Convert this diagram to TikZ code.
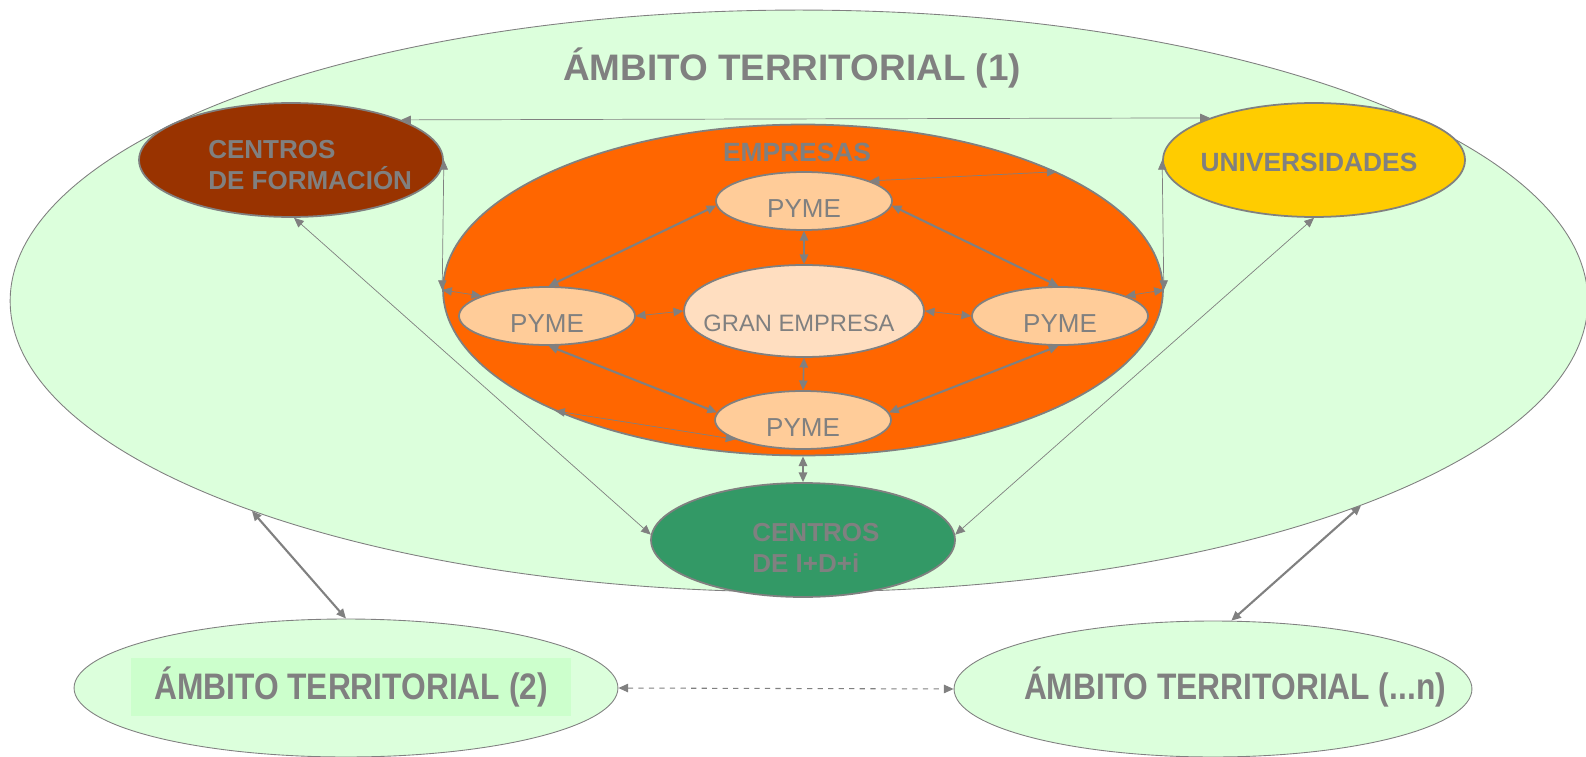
\documentclass[tikz,border=0pt]{standalone}
\usepackage{fontspec}
\setmainfont{Liberation Sans}
\usepackage{graphicx}
\usepackage{xcolor}
\usepackage{tikz}
\usetikzlibrary{
  arrows.meta,
  shapes.geometric,
  positioning,
  calc
}
\definecolor{txtgray}{RGB}{128,128,128}
\definecolor{formacion}{RGB}{153,51,0}
\definecolor{univfill}{RGB}{255,204,0}
\definecolor{empfill}{RGB}{255,102,0}
\definecolor{pymefill}{RGB}{255,204,153}
\definecolor{granfill}{RGB}{255,222,192}
\definecolor{idifill}{RGB}{51,153,102}
\definecolor{ambfill}{RGB}{220,255,220}
\definecolor{ambrect}{RGB}{204,255,204}
\tikzset{
  ambito/.style=
  {
    ellipse,
    draw=txtgray,
    line width=0.5pt,
    fill=ambfill,
    inner sep=0pt
  },
  actor/.style=
  {
    ellipse,
    draw=txtgray,
    line width=1pt,
    inner sep=0pt
  },
  pyme/.style=
  {
    actor,
    fill=pymefill,
    minimum width=3.52cm,
    minimum height=1.16cm
  },
  bigtxt/.style=
  {
    text=txtgray,
    font=\bfseries\fontsize{21pt}{25pt}\selectfont
  },
  boldtxt/.style=
  {
    text=txtgray,
    inner sep=0pt,
    font=\bfseries\fontsize{14.8pt}{18pt}\selectfont
  },
  pymetxt/.style=
  {
    text=txtgray,
    inner sep=0pt,
    font=\fontsize{14.8pt}{18pt}\selectfont
  },
  link/.style=
  {
    draw=txtgray,
    line width=0.4pt,
    <->
  },
  mid/.style=
  {
    draw=txtgray,
    line width=0.9pt,
    <->
  },
  flow/.style=
  {
    draw=txtgray,
    line width=1.2pt,
    <->
  },
  dashlink/.style=
  {
    draw=txtgray,
    line width=0.6pt,
    dashed,
    <->
  }
}

\begin{document}
\begin{tikzpicture}[x=0.02cm, y=-0.02cm, >={Triangle[length=5.5pt,width=4.8pt]}]
  \useasboundingbox (0,0) rectangle (1586,757);
  \node[ambito, minimum width=31.56cm, minimum height=11.64cm] (big) at (799,301) {};
  \node[bigtxt] (bigtxt) at (792,68) {ÁMBITO TERRITORIAL (1)};
  \node[actor, fill=formacion, minimum width=6.08cm, minimum height=2.28cm] (cf) at (291,160) {};
  \node[boldtxt, align=left, anchor=west] (cftxt) at (208,165) {CENTROS\\DE FORMACIÓN};
  \node[actor, fill=univfill, minimum width=6.04cm, minimum height=2.28cm] (univ) at (1314,160) {};
  \node[boldtxt, font=\bfseries\fontsize{15pt}{18pt}\selectfont] (univtxt) at (1309,162) {UNIVERSIDADES};
  \node[actor, fill=empfill, minimum width=14.4cm, minimum height=6.62cm] (emp) at (803,290) {};
  \node[boldtxt, font=\bfseries\fontsize{15pt}{18pt}\selectfont] (emptxt) at (797,152) {EMPRESAS};
  \node[pyme] (pT) at (804,201) {};
  \node[pyme] (pL) at (547,316) {};
  \node[pyme] (pR) at (1060,316) {};
  \node[pyme] (pB) at (803,420) {};
  \node[actor, fill=granfill, minimum width=4.8cm, minimum height=1.84cm] (gran) at (804,311) {};
  \node[pymetxt] (pTtxt) at ([yshift=-0.16cm]pT.center) {PYME};
  \node[pymetxt] (pLtxt) at ([yshift=-0.16cm]pL.center) {PYME};
  \node[pymetxt] (pRtxt) at ([yshift=-0.16cm]pR.center) {PYME};
  \node[pymetxt] (pBtxt) at ([yshift=-0.16cm]pB.center) {PYME};
  \node[pymetxt, font=\fontsize{13.5pt}{16pt}\selectfont] (grantxt) at (799,323) {GRAN EMPRESA};
  \node[actor, fill=idifill, minimum width=6.08cm, minimum height=2.28cm] (idi) at (803,540) {};
  \node[boldtxt, align=left, anchor=west] (iditxt) at (752,548) {CENTROS\\DE I+D+i};
  \node[ambito, minimum width=10.88cm, minimum height=2.76cm] (amb2) at (346,688) {};
  \node[bigtxt, fill=ambrect, minimum width=8.82cm, minimum height=1.16cm] (amb2txt) at (351,687)
    {\scalebox{0.86}[1]{ÁMBITO TERRITORIAL (2)}};
  \node[ambito, minimum width=10.36cm, minimum height=2.72cm] (ambn) at (1213,689) {};
  \node[bigtxt] (ambntxt) at (1235,687) {\scalebox{0.86}[1]{ÁMBITO TERRITORIAL (...n)}};

  \draw[link] (cf.20) -- (univ.158);
  \draw[link] (cf.east) -- (emp.west);
  \draw[link] (univ.west) -- (emp.east);
  \draw[link] (emp.west) -- (pL.163);
  \draw[link] (emp.east) -- (pR.17);
  \draw[link] (pT.17) -- (emp.25);
  \draw[link] (emp.206) -- (pB.196);
  \draw[link] (cf.-87) -- (idi.178);
  \draw[link] (univ.-90) -- (idi.2);
  \draw[link] (pL.east) -- (gran.west);
  \draw[link] (gran.east) -- (pR.west);
  \draw[mid] (pT.south) -- (gran.north);
  \draw[mid] (gran.south) -- (pB.north);
  \draw[mid] (emp.south) -- (idi.north);
  \draw[flow] (pT.183) -- (pL.87);
  \draw[flow] (pT.-3) -- (pR.93);
  \draw[flow] (pL.-87) -- (pB.175);
  \draw[flow] (pR.-93) -- (pB.5);
  \draw[flow] (big.201) -- (amb2.north);
  \draw[flow] (big.-20) -- (ambn.75);
  \draw[dashlink] (amb2.east) -- (ambn.west);
\end{tikzpicture}
\end{document}
